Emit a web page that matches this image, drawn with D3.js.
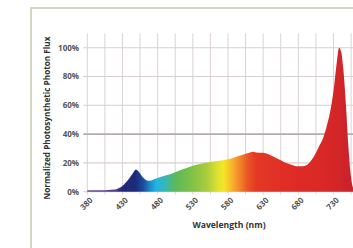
<!DOCTYPE html>
<html>
<head>
<meta charset="utf-8">
<script src="https://cdn.jsdelivr.net/npm/d3@7"></script>
<style>
  html, body { margin: 0; padding: 0; background: #fff; }
  svg { display: block; }
</style>
</head>
<body>
<svg id="chart" width="353" height="248"></svg>
<script>
// spectrum (nm, % of peak)
const wavelengths = [380, 390, 400, 410, 420, 425, 430, 435, 440, 445, 449, 452, 456, 460, 464, 468, 472, 476, 480,
  490, 500, 510, 520, 530, 540, 550, 560, 570, 580, 590, 600, 610, 615, 620, 630, 640, 650, 660, 670, 680, 686,
  692, 698, 704, 710, 715, 720, 725, 730, 734, 738, 741, 744, 748, 751, 754, 757, 760];
const flux = [1.0, 1.0, 1.0, 1.2, 1.5, 2.5, 4, 6.5, 9.5, 13, 15.5, 14.5, 12, 9.5, 8, 7.6, 8, 8.8, 9.5,
  11, 12.5, 14.5, 16.3, 18, 19.2, 20.2, 21, 21.6, 22.5, 24, 25.5, 27, 27.8, 27.3, 27, 25.5, 23, 20.5, 18.8, 17.6, 17.6,
  18.5, 21.5, 26, 32, 37, 45, 55, 70, 87, 100, 97, 85, 58, 33, 14, 4, 1];

const xTickLabels = [380, 430, 480, 530, 580, 630, 680, 730];
const xGrid = d3.range(380, 800, 25);
const yTickLabels = [0, 20, 40, 60, 80, 100];

// colour of the fill along the spectrum
const colorStops = [
  [380, "#6b4a94"], [420, "#4b3a8a"], [430, "#25287a"], [448, "#1c2a78"], [460, "#1f4f9e"],
  [470, "#1b8fcf"], [478, "#22b4e2"], [490, "#35b7b5"], [505, "#5cb95a"], [525, "#79c04a"],
  [550, "#a9cd3c"], [566, "#e2e22e"], [574, "#f4e628"], [584, "#f7bb2c"], [596, "#f2882a"],
  [608, "#ea5526"], [620, "#e33826"], [660, "#e02e26"], [720, "#d92828"], [760, "#c8222a"]
];

const svg = d3.select("#chart");

const x = d3.scaleLinear().domain([380, 730]).range([87.3, 333.5]);
const y = d3.scaleLinear().domain([0, 110]).range([191.7, 33.3]);

// outer frame
svg.append("path")
  .attr("d", "M31,248 V8 H353")
  .attr("fill", "none")
  .attr("stroke", "#d6d4c2")
  .attr("stroke-width", 2);

// gradient
const defs = svg.append("defs");
const grad = defs.append("linearGradient")
  .attr("id", "spec")
  .attr("gradientUnits", "userSpaceOnUse")
  .attr("x1", x(380)).attr("x2", x(760))
  .attr("y1", 0).attr("y2", 0);
grad.selectAll("stop")
  .data(colorStops)
  .join("stop")
  .attr("offset", d => (d[0] - 380) / (760 - 380))
  .attr("stop-color", d => d[1]);

defs.append("filter").attr("id", "soft")
  .append("feGaussianBlur").attr("stdDeviation", 0.35);

// grid
const grid = svg.append("g");
grid.selectAll("line.v")
  .data(xGrid)
  .join("line")
  .attr("class", "v")
  .attr("x1", d => x(d)).attr("x2", d => x(d))
  .attr("y1", y(110)).attr("y2", y(0) + 3)
  .attr("stroke", "#ddd3d3")
  .attr("stroke-width", 1);

grid.selectAll("line.h")
  .data(yTickLabels)
  .join("line")
  .attr("class", "h")
  .attr("x1", x(380) - 4).attr("x2", 353)
  .attr("y1", d => y(d)).attr("y2", d => y(d))
  .attr("stroke", d => d === 40 ? "#b4acac" : "#d8cece")
  .attr("stroke-width", d => d === 40 ? 1.6 : 1.1);

// spectrum
const data = wavelengths.map((w, i) => ({ w, v: flux[i] }));
const area = d3.area()
  .x(d => x(d.w))
  .y0(y(0))
  .y1(d => y(d.v))
  .curve(d3.curveMonotoneX);

svg.append("path")
  .datum(data)
  .attr("d", area)
  .attr("fill", "url(#spec)")
  .attr("filter", "url(#soft)");

// y tick labels
svg.append("g")
  .selectAll("text")
  .data(yTickLabels)
  .join("text")
  .attr("x", 79)
  .attr("y", d => y(d))
  .attr("dy", "0.35em")
  .attr("text-anchor", "end")
  .attr("font-family", "'Open Sans', sans-serif")
  .attr("font-weight", 700)
  .attr("font-size", 8)
  .attr("fill", "#555")
  .text(d => d + "%");

// x tick labels
svg.append("g")
  .selectAll("text")
  .data(xTickLabels)
  .join("text")
  .attr("transform", d => `translate(${x(d) + 4},${y(0) + 7}) rotate(-45)`)
  .attr("text-anchor", "end")
  .attr("dy", "0.35em")
  .attr("font-family", "'Open Sans', sans-serif")
  .attr("font-weight", 700)
  .attr("font-size", 8)
  .attr("fill", "#555")
  .text(d => d);

// axis titles
svg.append("text")
  .attr("x", 229)
  .attr("y", 228)
  .attr("text-anchor", "middle")
  .attr("font-family", "'Open Sans', sans-serif")
  .attr("font-weight", 700)
  .attr("font-size", 8.6)
  .attr("fill", "#333")
  .text("Wavelength (nm)");

svg.append("text")
  .attr("transform", "translate(50,118) rotate(-90)")
  .attr("text-anchor", "middle")
  .attr("font-family", "'Open Sans', sans-serif")
  .attr("font-weight", 700)
  .attr("font-size", 8.2)
  .attr("fill", "#333")
  .text("Normalized Photosynthetic Photon Flux");
</script>
</body>
</html>
